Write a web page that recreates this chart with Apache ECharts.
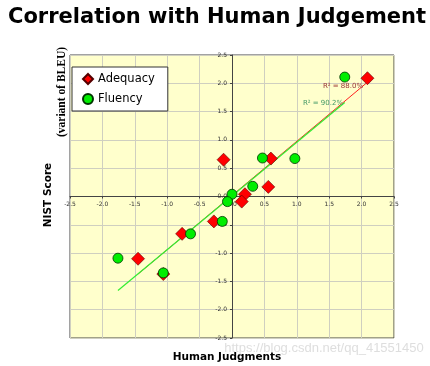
<!DOCTYPE html>
<html><head><meta charset="utf-8">
<script src="https://cdn.jsdelivr.net/npm/echarts@6/dist/echarts.min.js"></script>
<style>html,body{margin:0;padding:0;background:#fff}#c{width:430px;height:366px}</style>
</head><body><div id="c"></div>
<script>
const adequacyX = [2.09, -0.13, 0.60, 0.56, 0.20, 0.15, -0.28, -0.77, -1.45, -1.06];
const adequacyY = [2.09, 0.65, 0.67, 0.17, 0.04, -0.09, -0.44, -0.66, -1.10, -1.37];
const fluencyX = [1.74, 0.47, 0.97, 0.32, 0.00, -0.07, -0.15, -0.64, -1.76, -1.06];
const fluencyY = [2.11, 0.68, 0.67, 0.18, 0.04, -0.09, -0.44, -0.66, -1.09, -1.35];
const adequacyFitX = [-1.45, 2.07];
const adequacyFitY = [-1.37, 2.00];
const fluencyFitX = [-1.76, 1.74];
const fluencyFitY = [-1.66, 1.66];
const axisTicks = [-2.5, 2.5, 0.5];
const seriesNames = ['Adequacy', 'Fluency'];
const r2Labels = ['R\u00b2 = 88.0%', 'R\u00b2 = 90.2%'];

const zip = (a, b) => a.map((v, i) => [v, b[i]]);
const chart = echarts.init(document.getElementById('c'));
const G = { left: 70, right: 36, top: 55, bottom: 28 };
const gw = 430 - G.left - G.right, gh = 366 - G.top - G.bottom;
const axisCommon = {
  type: 'value', min: axisTicks[0], max: axisTicks[1], interval: axisTicks[2],
  axisLine: { show: true, onZero: false, lineStyle: { color: '#444', width: 1 } },
  axisTick: { show: true, length: 2, lineStyle: { color: '#444' } },
  axisLabel: { fontSize: 6, color: '#333', fontFamily: 'DejaVu Sans', margin: 5, formatter: v => v.toFixed(1) },
  splitLine: { show: true, lineStyle: { color: '#cfcfc0', width: 1 } }
};
chart.setOption({
  animation: false,
  grid: Object.assign({ show: true, backgroundColor: '#ffffcc', borderColor: '#444', borderWidth: 1 }, G),
  xAxis: Object.assign({}, axisCommon, { position: 'bottom', offset: -gh / 2 }),
  yAxis: Object.assign({}, axisCommon, { position: 'left', offset: -gw / 2 }),
  legend: {
    data: [{ name: seriesNames[0], icon: 'diamond' }, { name: seriesNames[1], icon: 'circle' }],
    orient: 'vertical', left: 72, top: 67,
    backgroundColor: '#fff', borderColor: '#333', borderWidth: 1,
    padding: [6, 13, 6, 10], itemGap: 8, itemWidth: 10, itemHeight: 10,
    textStyle: { fontSize: 11.5, fontFamily: 'DejaVu Sans', color: '#000' }
  },
  graphic: [
    { type: 'text', left: 8, top: 7, style: { text: 'Correlation with Human Judgement', font: 'bold 21px "DejaVu Sans"', fill: '#000' } },
    { type: 'text', x: 227, y: 357, style: { text: 'Human Judgments', font: 'bold 10.5px "DejaVu Sans"', fill: '#000', align: 'center', verticalAlign: 'middle' } },
    { type: 'text', x: 48, y: 195, rotation: Math.PI / 2, style: { text: 'NIST Score', font: 'bold 10.5px "DejaVu Sans"', fill: '#000', align: 'center', verticalAlign: 'middle' } },
    { type: 'text', x: 62, y: 92, rotation: Math.PI / 2, style: { text: '(variant of BLEU)', font: 'bold 11.5px "Liberation Serif"', fill: '#000', align: 'center', verticalAlign: 'middle' } },
    { type: 'text', x: 343, y: 86, z: 50, style: { text: r2Labels[0], font: '7px "DejaVu Sans"', fill: '#993333', align: 'center', verticalAlign: 'middle' } },
    { type: 'text', x: 323, y: 103, z: 50, style: { text: r2Labels[1], font: '7px "DejaVu Sans"', fill: '#449966', align: 'center', verticalAlign: 'middle' } },
    { type: 'text', x: 324, y: 348, z: 100, style: { text: 'https://blog.csdn.net/qq_41551450', font: '13px "Liberation Sans Narrow", "Liberation Sans"', fill: 'rgba(200,200,200,0.6)', align: 'center', verticalAlign: 'middle' } }
  ],
  series: [
    { name: 'fitA', type: 'line', data: zip(adequacyFitX, adequacyFitY), symbol: 'none', lineStyle: { color: '#ff2020', width: 1 }, z: 2,
      markLine: { silent: true, symbol: 'none', label: { show: false }, lineStyle: { color: '#444', width: 1, type: 'solid' }, data: [{ xAxis: 0 }] } },
    { name: 'fitF', type: 'line', data: zip(fluencyFitX, fluencyFitY), symbol: 'none', lineStyle: { color: '#33ee33', width: 1.2 }, z: 3 },
    { name: seriesNames[0], type: 'scatter', data: zip(adequacyX, adequacyY), symbol: 'diamond', symbolSize: 13, itemStyle: { color: '#ff0000', borderColor: '#550000', borderWidth: 0.6, opacity: 1 }, z: 4 },
    { name: seriesNames[1], type: 'scatter', data: zip(fluencyX, fluencyY), symbol: 'circle', symbolSize: 10, itemStyle: { color: '#00ee00', borderColor: '#003300', borderWidth: 0.8, opacity: 1 }, z: 5 }
  ]
});
</script></body></html>
